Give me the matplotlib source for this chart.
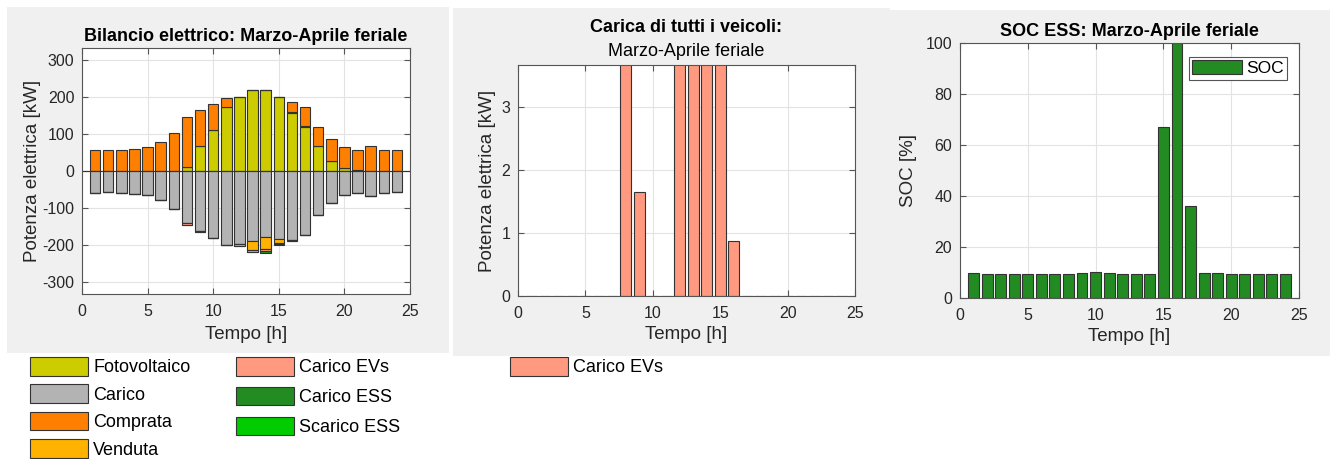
import matplotlib
matplotlib.use("Agg")
import matplotlib.pyplot as plt
import numpy as np
from matplotlib.patches import Rectangle, Patch

plt.rcParams['font.family'] = ['Liberation Sans', 'DejaVu Sans']
plt.rcParams['font.size'] = 11
plt.rcParams['axes.unicode_minus'] = False

# hourly data (Marzo-Aprile feriale)
hours = np.arange(1, 25)
fotovoltaico = [0, 0, 0, 0, 0, 0, 0, 11, 69, 111, 173, 200, 218, 220, 200, 156, 120, 67, 27, 9, 3, 0, 0, 0]
scarico_ess = [0, 0, 0, 0, 0, 0, 0, 0, 0, 0, 0, 0, 0, 0, 0, 5, 1, 0, 0, 0, 0, 0, 0, 0]
comprata = [58, 56, 58, 60, 65, 78, 102, 134, 95, 70, 25, 0, 0, 0, 0, 26, 51, 51, 59, 55, 55, 67, 58, 56]
carico = [59, 57, 59, 61, 66, 79, 103, 141, 163, 182, 200, 198, 189, 180, 185, 188, 173, 118, 87, 64, 59, 67, 59, 57]
venduta = [0, 0, 0, 0, 0, 0, 0, 0, 0, 0, 0, 0, 26, 31, 9, 0, 0, 0, 0, 0, 0, 0, 0, 0]
carico_evs = [0, 0, 0, 0, 0, 0, 0, 4.4, 1.65, 0, 0, 4.4, 4.4, 4.4, 4.4, 0.87, 0, 0, 0, 0, 0, 0, 0, 0]
carico_ess = [0, 0, 0, 0, 0, 0, 0, 0, 0, 0, 0, 0, 0, 7, 3, 0, 0, 0, 0, 0, 0, 0, 0, 0]
soc = [10.0, 9.6, 9.6, 9.6, 9.6, 9.6, 9.6, 9.6, 10.0, 10.1, 10.0, 9.6, 9.6, 9.6,
       67, 100, 36, 10.0, 10.0, 9.6, 9.6, 9.6, 9.6, 9.6]

c_pv = '#cccc00'
c_load = '#b3b3b3'
c_buy = '#ff8000'
c_sell = '#ffb300'
c_ev = '#ff9980'
c_ess_c = '#228b22'
c_ess_d = '#00cc00'
edge = '#333333'

TICK = 11.5
LAB = 13.5
TIT = 13
LEG = 13

W, H = 1333, 459
fig = plt.figure(figsize=(W / 100, H / 100), dpi=100)
fig.patch.set_facecolor('white')


def px_axes(l, t, r, b):
    return fig.add_axes([l / W, 1 - b / H, (r - l) / W, (b - t) / H])


# grey panel backgrounds
for (l, t, r, b) in [(7, 7, 449, 353), (453, 8, 890, 356), (890, 10, 1330, 356)]:
    fig.patches.append(Rectangle((l / W, 1 - b / H), (r - l) / W, (b - t) / H,
                                 transform=fig.transFigure, facecolor='#f0f0f0',
                                 edgecolor='none', zorder=-10))


def style(ax):
    ax.set_facecolor('white')
    ax.grid(True, color='#e3e3e3', lw=0.8)
    ax.set_axisbelow(True)
    ax.tick_params(direction='in', top=True, right=True, length=4,
                   colors='#262626', labelsize=TICK, color='#555555')
    ax.tick_params(axis='x', pad=7)
    ax.tick_params(axis='y', pad=5.5)
    for s in ax.spines.values():
        s.set_color('#555555')
        s.set_linewidth(0.8)


bw = 0.8
kw = dict(width=bw, edgecolor=edge, linewidth=0.8)

# Panel 1
ax1 = px_axes(82, 48, 410, 294)
style(ax1)
pv = np.array(fotovoltaico, float)
sd = np.array(scarico_ess, float)
ax1.bar(hours, pv, color=c_pv, **kw)
ax1.bar(hours, sd, bottom=pv, color=c_ess_d, **kw)
ax1.bar(hours, comprata, bottom=pv + sd, color=c_buy, **kw)
ld = -np.array(carico, float)
vd = -np.array(venduta, float)
ev = -np.array(carico_evs, float)
ec = -np.array(carico_ess, float)
ax1.bar(hours, ld, color=c_load, **kw)
ax1.bar(hours, vd, bottom=ld, color=c_sell, **kw)
ax1.bar(hours, ev, bottom=ld + vd, color=c_ev, **kw)
ax1.bar(hours, ec, bottom=ld + vd + ev, color=c_ess_c, **kw)
ax1.axhline(0, color='#333333', lw=0.8)
ax1.set_xlim(0, 25)
ax1.set_ylim(-333, 333)
ax1.set_xticks(range(0, 26, 5))
ax1.set_yticks(range(-300, 301, 100))
ax1.set_title('Bilancio elettrico: Marzo-Aprile feriale', fontsize=TIT,
              fontweight='bold', pad=5)
ax1.set_xlabel('Tempo [h]', fontsize=LAB, color='#262626', labelpad=5)
ax1.set_ylabel('Potenza elettrica [kW]', fontsize=LAB, color='#262626', labelpad=1)

# Panel 2
ax2 = px_axes(518, 65, 855, 296)
style(ax2)
ax2.bar(hours, carico_evs, color=c_ev, **kw)
ax2.set_xlim(0, 25)
ax2.set_ylim(0, 3.667)
ax2.set_xticks(range(0, 26, 5))
ax2.set_yticks([0, 1, 2, 3])
ax2.text(0.5, 1 + (65 - 27) / 231, 'Carica di tutti i veicoli:', transform=ax2.transAxes,
         ha='center', va='center', fontsize=TIT, fontweight='bold')
ax2.text(0.5, 1 + (65 - 52) / 231, 'Marzo-Aprile feriale', transform=ax2.transAxes,
         ha='center', va='center', fontsize=TIT)
ax2.set_xlabel('Tempo [h]', fontsize=LAB, color='#262626', labelpad=4)
ax2.set_ylabel('Potenza elettrica [kW]', fontsize=LAB, color='#262626', labelpad=4)

# Panel 3
ax3 = px_axes(960, 43, 1299, 298)
style(ax3)
ax3.bar(hours, soc, color=c_ess_c, label='SOC', **kw)
ax3.set_xlim(0, 25)
ax3.set_ylim(0, 100)
ax3.set_xticks(range(0, 26, 5))
ax3.set_yticks(range(0, 101, 20))
ax3.set_title('SOC ESS: Marzo-Aprile feriale', fontsize=TIT, fontweight='bold', pad=5)
ax3.set_xlabel('Tempo [h]', fontsize=LAB, color='#262626', labelpad=4)
ax3.set_ylabel('SOC [%]', fontsize=LAB, color='#262626', labelpad=6)
leg3 = ax3.legend(loc='upper right', bbox_to_anchor=((1287 - 960) / 339, 1 - (57 - 43) / 255),
                  borderaxespad=0, fancybox=False, framealpha=1, edgecolor='#555555',
                  handlelength=2.9, handleheight=0.8, handletextpad=0.2, borderpad=0.2,
                  fontsize=12.5)
leg3.get_frame().set_linewidth(0.8)

# legends below the panels
leg_kw = dict(loc='upper left', frameon=False, borderpad=0, borderaxespad=0,
              handlelength=3.2, handleheight=1.2, handletextpad=0.3, fontsize=LEG)
labels_a = ['Fotovoltaico', 'Carico', 'Comprata', 'Venduta']
cols_a = [c_pv, c_load, c_buy, c_sell]
labels_b = ['Carico EVs', 'Carico ESS', 'Scarico ESS']
cols_b = [c_ev, c_ess_c, c_ess_d]
fig.legend([Patch(facecolor=c, edgecolor=edge, linewidth=0.8) for c in cols_a], labels_a,
           bbox_to_anchor=(30 / W, 1 - 357 / H), labelspacing=0.45, **leg_kw)
fig.legend([Patch(facecolor=c, edgecolor=edge, linewidth=0.8) for c in cols_b], labels_b,
           bbox_to_anchor=(236 / W, 1 - 357 / H), labelspacing=0.58, **leg_kw)
fig.legend([Patch(facecolor=c_ev, edgecolor=edge, linewidth=0.8)], ['Carico EVs'],
           bbox_to_anchor=(510 / W, 1 - 357 / H), **leg_kw)

fig.savefig('out.png', dpi=100)
